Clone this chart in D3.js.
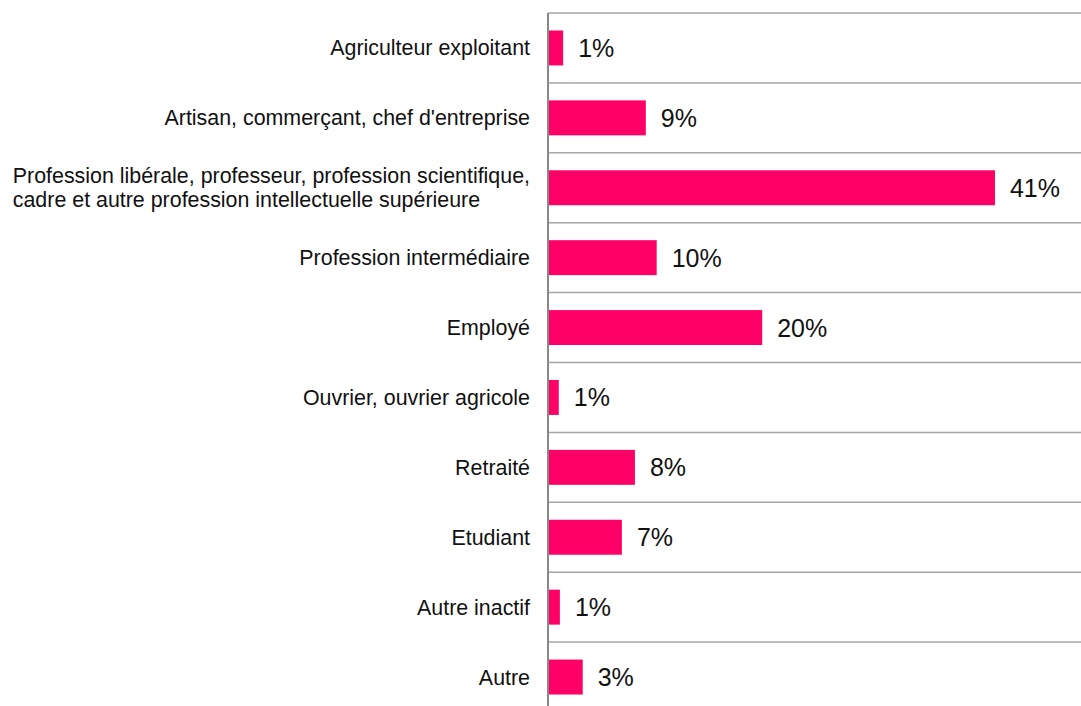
<!DOCTYPE html>
<html>
<head>
<meta charset="utf-8">
<script src="https://cdn.jsdelivr.net/npm/d3@7"></script>
<style>
  body { margin: 0; background: #fff; }
  svg { display: block; font-family: "Liberation Sans", Arial, sans-serif; }
</style>
</head>
<body>
<div id="chart"></div>
<script>
const categories = [
  ['Agriculteur exploitant'],
  ['Artisan, commerçant, chef d\'entreprise'],
  ['Profession libérale, professeur, profession scientifique,', 'cadre et autre profession intellectuelle supérieure'],
  ['Profession intermédiaire'],
  ['Employé'],
  ['Ouvrier, ouvrier agricole'],
  ['Retraité'],
  ['Etudiant'],
  ['Autre inactif'],
  ['Autre']
];
const values = [1.3, 8.9, 41, 9.9, 19.6, 0.9, 7.9, 6.7, 1.0, 3.1];
const valueLabels = ['1%', '9%', '41%', '10%', '20%', '1%', '8%', '7%', '1%', '3%'];

const width = 1081;
const height = 706;
const margin = { top: 13, left: 548 };
const rowH = 69.9;

const svg = d3.select('#chart')
  .append('svg')
  .attr('width', width)
  .attr('height', height);

const keys = d3.range(categories.length);

const xScale = d3.scaleLinear()
  .domain([0, 49])
  .range([0, width - margin.left]);

const yScale = d3.scaleBand()
  .domain(keys)
  .range([0, rowH * categories.length])
  .paddingInner(0.5)
  .paddingOuter(0.25);

const chart = svg.append('g')
  .attr('transform', `translate(${margin.left}, ${margin.top})`);

// row separators (top border included)
chart.selectAll('.sep')
  .data(d3.range(categories.length))
  .enter()
  .append('line')
  .attr('x1', 0)
  .attr('x2', width - margin.left)
  .attr('y1', (d) => d * rowH)
  .attr('y2', (d) => d * rowH)
  .attr('stroke', '#a6a6a6')
  .attr('stroke-width', 1.5);

chart.selectAll('.bar')
  .data(keys)
  .enter()
  .append('rect')
  .attr('class', 'bar')
  .attr('x', 1)
  .attr('y', (d) => yScale(d))
  .attr('width', (d) => xScale(values[d]))
  .attr('height', yScale.bandwidth())
  .attr('fill', '#ff0066');

chart.selectAll('.bar-label')
  .data(keys)
  .enter()
  .append('text')
  .attr('x', (d) => xScale(values[d]) + 16)
  .attr('y', (d) => yScale(d) + yScale.bandwidth() / 2)
  .attr('dy', '0.36em')
  .attr('font-size', '25px')
  .attr('fill', '#111')
  .text((d) => valueLabels[d]);

const names = chart.selectAll('.bar-name')
  .data(keys)
  .enter()
  .append('text')
  .attr('font-size', '21.4px')
  .attr('fill', '#111')
  .attr('y', (d) => yScale(d) + yScale.bandwidth() / 2);

names.selectAll('tspan')
  .data((d) => categories[d].map((t, i, a) => ({ t, i, n: a.length })))
  .enter()
  .append('tspan')
  .attr('dy', (s) => s.i === 0 ? `${0.35 - (s.n - 1) * 0.56}em` : '1.12em')
  .text((s) => s.t);

// block right-aligned next to the axis, lines left-aligned inside it
names.each(function () {
  const spans = d3.select(this).selectAll('tspan');
  const w = d3.max(spans.nodes(), (n) => n.getComputedTextLength());
  spans.attr('x', -18 - w);
});

// vertical axis line
chart.append('line')
  .attr('x1', 0)
  .attr('x2', 0)
  .attr('y1', 0)
  .attr('y2', height)
  .attr('stroke', '#888')
  .attr('stroke-width', 2);
</script>
</body>
</html>
